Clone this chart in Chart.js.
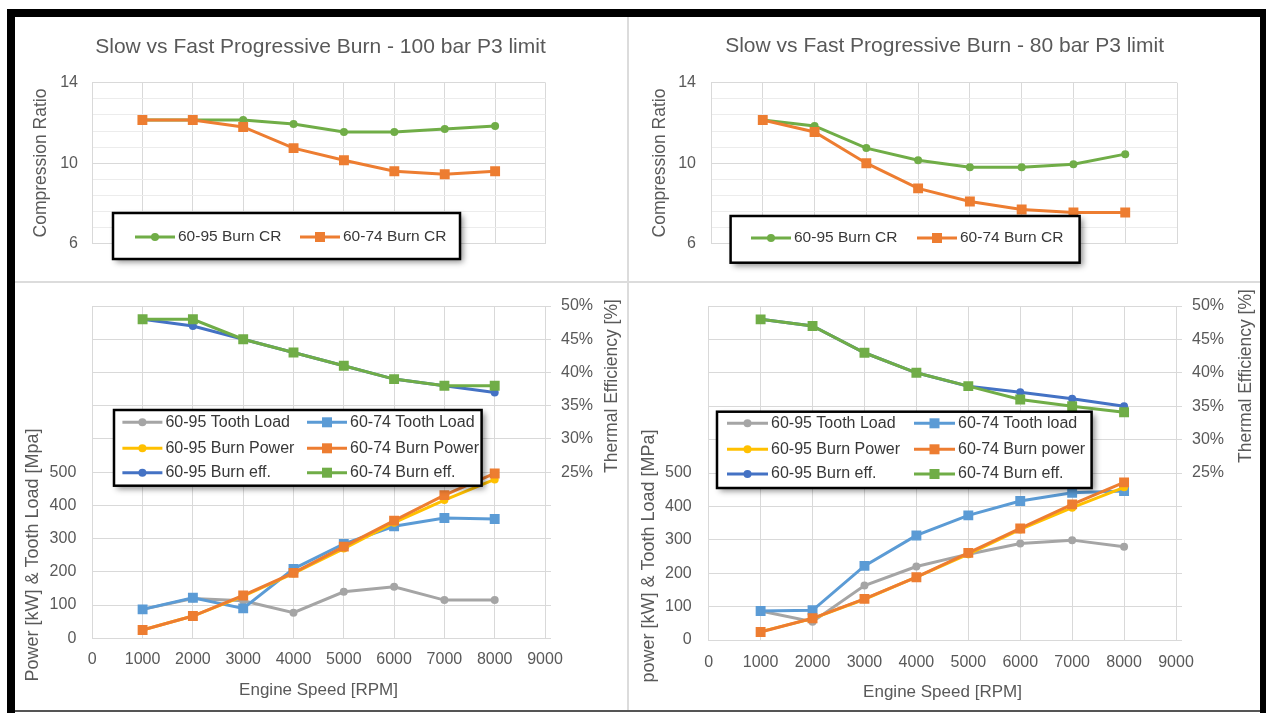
<!DOCTYPE html>
<html><head><meta charset="utf-8">
<script src="https://cdn.jsdelivr.net/npm/chart.js@4.4.0/dist/chart.umd.min.js"></script>
<style>
html,body{margin:0;padding:0;background:#fff;}
#wrap{position:relative;width:1266px;height:713px;overflow:hidden;background:#fff;}
canvas{position:absolute;left:0;top:0;}
.bar{position:absolute;background:#000;}
.sep{position:absolute;background:#dcdcdc;}
</style></head><body>
<div id="wrap">
 <div class="sep" style="left:627px;top:17px;width:2px;height:693px"></div>
 <div class="sep" style="left:15px;top:281px;width:1245px;height:2px"></div>
 <canvas id="c1" width="1266" height="713"></canvas>
 <canvas id="c2" width="1266" height="713"></canvas>
 <canvas id="c3" width="1266" height="713"></canvas>
 <canvas id="c4" width="1266" height="713"></canvas>
 <div class="bar" style="left:7px;top:9px;width:1259px;height:8px"></div>
 <div class="bar" style="left:7px;top:9px;width:8px;height:704px"></div>
 <div class="bar" style="left:1260px;top:9px;width:6px;height:704px"></div>
 <div style="position:absolute;left:15px;top:710px;width:1245px;height:2px;background:#555"></div>
</div>
<script>
// ---------- DATA ----------
const rpm = [1000, 2000, 3000, 4000, 5000, 6000, 7000, 8000];
const xTicks = [0, 1000, 2000, 3000, 4000, 5000, 6000, 7000, 8000, 9000];

// Compression ratio, 100 bar P3 limit
const cr95_100 = [12.15, 12.15, 12.15, 11.95, 11.55, 11.55, 11.7, 11.85];
const cr74_100 = [12.15, 12.15, 11.8, 10.75, 10.15, 9.6, 9.45, 9.6];
// Compression ratio, 80 bar P3 limit
const cr95_80 = [12.15, 11.85, 10.75, 10.15, 9.8, 9.8, 9.95, 10.45];
const cr74_80 = [12.15, 11.55, 10.0, 8.75, 8.1, 7.7, 7.55, 7.55];

// 100 bar: tooth load [MPa], power [kW], efficiency [%]
const tooth95_100 = [87, 120, 113, 77, 140, 155, 115, 115];
const tooth74_100 = [87, 122, 90, 209, 284, 337, 362, 359];
const power95_100 = [25, 67, 127, 195, 270, 348, 416, 478];
const power74_100 = [25, 67, 129, 197, 276, 354, 431, 496];
const eff95_100 = [48, 47, 45, 43, 41, 39, 38, 37];
const eff74_100 = [48, 48, 45, 43, 41, 39, 38, 38];

// 80 bar
const tooth95_80 = [87, 55, 163, 220, 257, 289, 299, 279];
const tooth74_80 = [87, 89, 222, 313, 373, 416, 441, 446];
const power95_80 = [25, 64, 122, 188, 257, 331, 396, 457];
const power74_80 = [24, 65, 123, 188, 261, 334, 406, 472];
const eff95_80 = [48, 47, 43, 40, 38, 37.1, 36.1, 35];
const eff74_80 = [48, 47, 43, 40, 38, 36, 35, 34.1];

const crTickLabels = [6, 10, 14];
const loadLabelMax = 500;
const effLabelMin = 25;

// ---------- STYLE ----------
const FONT = "'Liberation Sans', Arial, sans-serif";
const C = {gray:'#A5A5A5', lblue:'#5B9BD5', yellow:'#FFC000', orange:'#ED7D31', dblue:'#4472C4', green:'#70AD47'};
const TXT = '#595959', GRID = '#d9d9d9';

const pts = arr => arr.map((v, i) => ({x: rpm[i], y: v}));
function ds(label, arr, color, shape, yAxisID) {
  return {label, data: pts(arr), borderColor: color, backgroundColor: color,
    borderWidth: 3, pointStyle: shape, pointRadius: shape === 'rect' ? 7 : 4,
    pointBorderWidth: 0, tension: 0, yAxisID: yAxisID || 'y'};
}
function setOrder(list) { list.forEach((d, i) => d.order = list.length - i); return list; }

const textPlugin = {
  id: 'texts',
  afterDraw(chart, args, opts) {
    const ctx = chart.ctx;
    (opts.items || []).forEach(t => {
      ctx.save();
      ctx.translate(t.x, t.y);
      if (t.rot) ctx.rotate(t.rot);
      ctx.font = t.font; ctx.fillStyle = t.color || TXT;
      ctx.textAlign = 'center'; ctx.textBaseline = 'middle';
      ctx.fillText(t.text, 0, 0);
      ctx.restore();
    });
  }
};
const boxLegend = {
  id: 'boxLegend',
  afterDraw(chart, args, o) {
    if (!o || !o.w) return;
    const ctx = chart.ctx;
    ctx.save();
    ctx.shadowColor = 'rgba(0,0,0,0.45)'; ctx.shadowBlur = 6; ctx.shadowOffsetX = 3; ctx.shadowOffsetY = 3;
    ctx.fillStyle = '#fff'; ctx.fillRect(o.x, o.y, o.w, o.h);
    ctx.restore();
    ctx.save();
    ctx.strokeStyle = '#000'; ctx.lineWidth = 2.5; ctx.strokeRect(o.x, o.y, o.w, o.h);
    chart.data.datasets.forEach((d, i) => {
      const col = i % o.cols.length, row = Math.floor(i / o.cols.length);
      const x0 = o.cols[col], y = o.rows[row];
      ctx.strokeStyle = d.borderColor; ctx.lineWidth = 3;
      ctx.beginPath(); ctx.moveTo(x0, y); ctx.lineTo(x0 + o.len, y); ctx.stroke();
      const cx = x0 + o.len / 2;
      ctx.fillStyle = d.backgroundColor;
      if (d.pointStyle === 'rect') { ctx.fillRect(cx - 5, y - 5, 10, 10); }
      else { ctx.beginPath(); ctx.arc(cx, y, 4, 0, Math.PI * 2); ctx.fill(); }
      ctx.fillStyle = '#383838'; ctx.font = o.font;
      ctx.textAlign = 'left'; ctx.textBaseline = 'middle';
      ctx.fillText(d.label, x0 + o.len + 3, y);
    });
    ctx.restore();
  }
};

function xScale(area, showTicks, pad) {
  return {
    type: 'linear', min: 0, max: 9000,
    afterBuildTicks: s => { s.ticks = xTicks.map(v => ({value: v})); },
    ticks: {display: showTicks, autoSkip: false, maxRotation: 0, padding: pad || 0,
      color: TXT, font: {family: FONT, size: 16}, callback: v => String(v)},
    grid: {color: GRID, drawTicks: false},
    border: {color: GRID},
    afterFit: s => { s.height = 713 - area.bottom; }
  };
}

function topChart(id, area, d95, d74, title, tpos, ytpos, tickPad, leg) {
  new Chart(document.getElementById(id), {
    type: 'line',
    data: {datasets: setOrder([ds('60-95 Burn CR', d95, C.green, 'circle'), ds('60-74 Burn CR', d74, C.orange, 'rect')])},
    options: {
      responsive: false, animation: false, events: [],
      layout: {padding: {left: 0, top: area.top, right: 1266 - area.right, bottom: 0}},
      scales: {
        x: xScale(area, false),
        y: {min: 6, max: 14,
          ticks: {stepSize: 0.8, autoSkip: false, padding: tickPad, color: TXT, font: {family: FONT, size: 16},
            callback: v => crTickLabels.some(t => Math.abs(t - v) < 0.01) ? String(Math.round(v)) : ''},
          grid: {drawTicks: false, color: c => crTickLabels.some(t => Math.abs(t - c.tick.value) < 0.01) ? GRID : '#ececec'},
          border: {color: GRID},
          afterFit: s => { s.width = area.left; }}
      },
      plugins: {
        legend: {display: false}, tooltip: {enabled: false},
        texts: {items: [
          {text: title, x: tpos[0], y: tpos[1], font: '21px ' + FONT},
          {text: 'Compression Ratio', x: ytpos[0], y: ytpos[1], rot: -Math.PI / 2, font: '17.5px ' + FONT}
        ]},
        boxLegend: leg
      }
    },
    plugins: [textPlugin, boxLegend]
  });
}

function bottomChart(id, area, series, texts, lpad, xpad, leg) {
  new Chart(document.getElementById(id), {
    type: 'line',
    data: {datasets: setOrder(series)},
    options: {
      responsive: false, animation: false, events: [],
      layout: {padding: {left: 0, top: area.top, right: 0, bottom: 0}},
      scales: {
        x: xScale(area, true, xpad),
        y: {position: 'left', min: 0, max: 1000,
          ticks: {stepSize: 100, autoSkip: false, padding: lpad, color: TXT, font: {family: FONT, size: 16},
            callback: v => v <= loadLabelMax ? String(v) : ''},
          grid: {drawTicks: false, color: GRID}, border: {color: GRID},
          afterFit: s => { s.width = area.left; }},
        y2: {position: 'right', min: 0, max: 50,
          ticks: {stepSize: 5, autoSkip: false, padding: 10, color: TXT, font: {family: FONT, size: 16},
            callback: v => v >= effLabelMin ? v + '%' : ''},
          grid: {drawOnChartArea: false, drawTicks: true, tickLength: 6, color: GRID}, border: {color: GRID},
          afterFit: s => { s.width = 1266 - area.right; }}
      },
      plugins: {
        legend: {display: false}, tooltip: {enabled: false},
        texts: {items: texts},
        boxLegend: leg
      }
    },
    plugins: [textPlugin, boxLegend]
  });
}

// ---------- CHARTS ----------
topChart('c1', {left: 92, right: 545.5, top: 82.7, bottom: 243.7}, cr95_100, cr74_100,
  'Slow vs Fast Progressive Burn - 100 bar P3 limit', [320.5, 47.7], [41, 163], 14,
  {x: 113, y: 213, w: 347, h: 46, cols: [135, 300], rows: [237], len: 40, font: '15.5px ' + FONT});

topChart('c2', {left: 711, right: 1177, top: 82.7, bottom: 243.7}, cr95_80, cr74_80,
  'Slow vs Fast Progressive Burn - 80 bar P3 limit', [944.6, 46.5], [660.4, 163], 15,
  {x: 730.6, y: 216, w: 349, h: 46.7, cols: [751, 917], rows: [238], len: 40, font: '15.5px ' + FONT});

bottomChart('c3', {left: 92.3, right: 545, top: 306, bottom: 638.3}, [
  ds('60-95 Tooth Load', tooth95_100, C.gray, 'circle'),
  ds('60-74 Tooth Load', tooth74_100, C.lblue, 'rect'),
  ds('60-95 Burn Power', power95_100, C.yellow, 'circle'),
  ds('60-74 Burn Power', power74_100, C.orange, 'rect'),
  ds('60-95 Burn eff.', eff95_100, C.dblue, 'circle', 'y2'),
  ds('60-74 Burn eff.', eff74_100, C.green, 'rect', 'y2')
], [
  {text: 'Power [kW] & Tooth Load [Mpa]', x: 32.6, y: 555, rot: -Math.PI / 2, font: '18px ' + FONT},
  {text: 'Thermal Efficiency [%]', x: 612, y: 386, rot: -Math.PI / 2, font: '17.5px ' + FONT},
  {text: 'Engine Speed [RPM]', x: 318.5, y: 690, font: '17px ' + FONT}
], 16, 12,
  {x: 114, y: 410, w: 367.6, h: 75.7, cols: [122.4, 307], rows: [422.3, 448.3, 472.7], len: 40, font: '16px ' + FONT});

bottomChart('c4', {left: 708.7, right: 1176, top: 306, bottom: 640}, [
  ds('60-95 Tooth Load', tooth95_80, C.gray, 'circle'),
  ds('60-74 Tooth load', tooth74_80, C.lblue, 'rect'),
  ds('60-95 Burn Power', power95_80, C.yellow, 'circle'),
  ds('60-74 Burn power', power74_80, C.orange, 'rect'),
  ds('60-95 Burn eff.', eff95_80, C.dblue, 'circle', 'y2'),
  ds('60-74 Burn eff.', eff74_80, C.green, 'rect', 'y2')
], [
  {text: 'power [kW] & Tooth Load [MPa]', x: 649.5, y: 556, rot: -Math.PI / 2, font: '18px ' + FONT},
  {text: 'Thermal Efficiency [%]', x: 1246.6, y: 376, rot: -Math.PI / 2, font: '17.5px ' + FONT},
  {text: 'Engine Speed [RPM]', x: 942.5, y: 692, font: '17px ' + FONT}
], 17, 13,
  {x: 717, y: 411.7, w: 374.6, h: 76.3, cols: [727, 914], rows: [423.3, 449.3, 474], len: 41, font: '16px ' + FONT});
</script>
</body></html>
